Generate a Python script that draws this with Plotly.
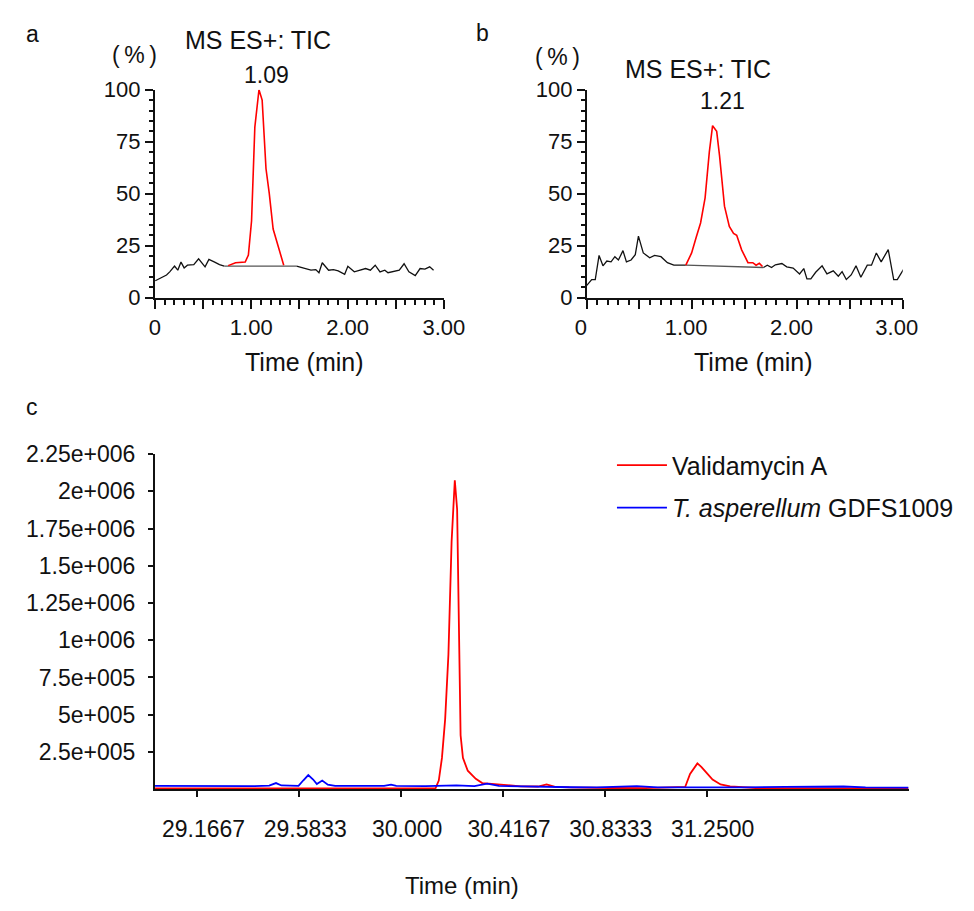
import plotly.graph_objects as go

W, H = 974, 911
FONT = "Liberation Sans, Arial, sans-serif"

# ---------------- Panel a data ----------------
a_pre_x = [0.003, 0.12, 0.153, 0.203, 0.237, 0.27, 0.303, 0.337, 0.403, 0.453, 0.52, 0.56, 0.62, 0.67, 0.72]
a_pre_y = [8.1, 10.9, 12.4, 15.2, 13.2, 17.1, 14.3, 15.6, 15.9, 18.7, 14.8, 18.4, 17.1, 15.9, 15.2]
a_base_x = [0.72, 1.47]
a_base_y = [15.2, 15.2]
a_peak_x = [0.76, 0.837, 0.937, 0.97, 1.003, 1.037, 1.08, 1.113, 1.153, 1.187, 1.227, 1.27, 1.337]
a_peak_y = [15.4, 16.8, 17.1, 20.5, 37, 82, 100, 95, 62, 50, 33, 26, 15.6]
a_post_x = [1.47, 1.553, 1.62, 1.67, 1.703, 1.737, 1.803, 1.853, 1.903, 1.97, 2.003, 2.07, 2.137, 2.187,
            2.237, 2.287, 2.337, 2.387, 2.42, 2.47, 2.537, 2.587, 2.637, 2.703, 2.753, 2.803, 2.853, 2.893]
a_post_y = [15.2, 14, 13.2, 13.5, 12, 16.8, 13.2, 13.5, 12.9, 11.2, 15.1, 12.4, 13.5, 14,
            13.2, 15.6, 12.4, 13.2, 12, 12.4, 13.2, 16.3, 12.4, 10.6, 14, 13.7, 14.8, 13.2]

# ---------------- Panel b data ----------------
b_pre_x = [0, 0.046, 0.08, 0.116, 0.153, 0.19, 0.23, 0.266, 0.30, 0.343, 0.376, 0.42, 0.46, 0.49, 0.536,
           0.597, 0.643, 0.704, 0.765, 0.826, 0.888, 0.94]
b_pre_y = [5.9, 8.7, 8.7, 20.3, 15.3, 17.6, 17.2, 19.7, 18.1, 22.6, 17.2, 18.1, 20.7, 29.6, 21.5,
           19.2, 20.3, 19.7, 16.8, 15.6, 15.6, 15.6]
b_base_x = [0.94, 1.677]
b_base_y = [15.6, 14.5]
b_peak_x = [0.94, 0.995, 1.04, 1.08, 1.123, 1.163, 1.194, 1.233, 1.26, 1.307, 1.353, 1.393, 1.423, 1.47,
            1.53, 1.576, 1.607, 1.638, 1.668]
b_peak_y = [15.6, 21.5, 29.3, 35.9, 48, 70, 82.7, 80, 68.3, 44, 34.3, 30.9, 30, 23, 16.8, 16.8, 15.6, 16.5, 15]
b_post_x = [1.677, 1.714, 1.754, 1.79, 1.852, 1.898, 1.959, 2.02, 2.06, 2.09, 2.127, 2.173, 2.234, 2.28,
            2.34, 2.388, 2.424, 2.464, 2.51, 2.556, 2.602, 2.663, 2.703, 2.749, 2.795, 2.862, 2.914, 2.948, 3.015]
b_post_y = [14.5, 15.6, 14.5, 15.8, 16.4, 14.8, 14.2, 11.4, 14, 9, 9, 12.2, 15.3, 11.4,
            12.9, 10.3, 12.5, 8.7, 10.9, 15.3, 9.8, 15.6, 15.6, 21.5, 17.2, 23.1, 8.7, 8.7, 14.2]

# ---------------- Panel c data ----------------
c_red_x = [28.993, 29.30, 29.60, 29.85, 30.00, 30.10, 30.1404, 30.1539, 30.1669, 30.18, 30.1934, 30.2064,
           30.2195, 30.229, 30.2369, 30.2432, 30.2527, 30.2725, 30.3053, 30.3318, 30.3578, 30.4108, 30.4899,
           30.56, 30.5951, 30.63, 30.6875, 30.85, 31.00, 31.162, 31.182, 31.212, 31.228, 31.248, 31.274,
           31.307, 31.346, 31.45, 31.60, 31.80, 32.076]
c_red_y = [5000, 5000, 4000, 6000, 5000, 5000, 5000, 58000, 210000, 470000, 904000, 1663000,
           2074000, 1879000, 1120000, 362000, 210000, 124000, 70000, 41000, 37000, 30000, 19500,
           18000, 32000, 16000, 12000, 8000, 7000, 15000, 102000, 173000, 150000, 113000, 65000,
           32000, 19500, 8000, 5000, 5000, 5000]
c_blue_x = [28.993, 29.10, 29.185, 29.25, 29.40, 29.46, 29.488, 29.51, 29.58, 29.60, 29.620, 29.64, 29.655,
            29.677, 29.70, 29.73, 29.85, 29.93, 29.9585, 29.98, 30.10, 30.226, 30.30, 30.352, 30.40, 30.50,
            30.60, 30.70, 30.80, 30.964, 31.05, 31.25, 31.40, 31.57, 31.65, 31.70, 31.81, 31.90, 32.076]
c_blue_y = [22000, 21000, 25000, 21000, 21000, 24000, 41000, 25000, 22000, 60000, 95000, 65000, 35000,
            58000, 30000, 22000, 21000, 22000, 30000, 22000, 21000, 25000, 21000, 37000, 22000, 18000,
            16000, 13000, 12000, 20000, 12000, 11000, 12000, 15000, 16000, 14000, 18000, 12000, 11000]

ab_ytick_vals = [0, 25, 50, 75, 100]
ab_xtick_vals = [0, 0.5, 1.0, 1.5, 2.0, 2.5, 3.0]
ab_xtick_text = ["0", "", "1.00", "", "2.00", "", "3.00"]
c_xtick_vals = [29.1667, 29.5833, 30.0, 30.4167, 30.8333, 31.25]
c_xtick_text = ["29.1667", "29.5833", "30.000", "30.4167", "30.8333", "31.2500"]
c_ytick_vals = [250000, 500000, 750000, 1000000, 1250000, 1500000, 1750000, 2000000, 2250000]
c_ytick_text = ["2.5e+005", "5e+005", "7.5e+005", "1e+006", "1.25e+006", "1.5e+006",
                "1.75e+006", "2e+006", "2.25e+006"]


def px(x):
    return x / W


def py(y):
    return 1 - y / H


fig = go.Figure()

BLACK = dict(color="#111111", width=1.3)
BASE = dict(color="#555555", width=1.3)
RED = dict(color="#ff0000", width=1.6)

for xs, ys, ln in [(a_pre_x, a_pre_y, BLACK), (a_base_x, a_base_y, BASE), (a_post_x, a_post_y, BLACK),
                   (a_peak_x, a_peak_y, RED)]:
    fig.add_trace(go.Scatter(x=xs, y=ys, mode="lines", line=ln, showlegend=False, xaxis="x", yaxis="y"))

for xs, ys, ln in [(b_pre_x, b_pre_y, BLACK), (b_base_x, b_base_y, BASE), (b_post_x, b_post_y, BLACK),
                   (b_peak_x, b_peak_y, RED)]:
    fig.add_trace(go.Scatter(x=xs, y=ys, mode="lines", line=ln, showlegend=False, xaxis="x2", yaxis="y2"))

fig.add_trace(go.Scatter(x=c_red_x, y=c_red_y, mode="lines", line=dict(color="#ff0000", width=1.8),
                         name="Validamycin A", legendgroup="g1", xaxis="x3", yaxis="y3"))
fig.add_trace(go.Scatter(x=c_blue_x, y=c_blue_y, mode="lines", line=dict(color="#0000ff", width=1.8),
                         name="<i>T. asperellum</i> GDFS1009", legendgroup="g2", xaxis="x3", yaxis="y3"))

tickfont = dict(family=FONT, size=22, color="#111111")


def ab_x(shift):
    return dict(range=[0, 3.0], showline=True, linewidth=2, linecolor="#111111", ticks="outside",
                tickvals=ab_xtick_vals, ticktext=ab_xtick_text, ticklen=9, tickwidth=2,
                tickcolor="#111111", showgrid=False, zeroline=False, tickfont=tickfont,
                ticklabelshift=shift,
                minor=dict(dtick=0.1, tick0=0, ticks="outside", ticklen=5, tickwidth=1.5,
                           tickcolor="#111111", showgrid=False))


ab_y_common = dict(range=[0, 100], showline=True, linewidth=2, linecolor="#111111", ticks="outside",
                   tickvals=ab_ytick_vals, ticklen=8, tickwidth=2, tickcolor="#111111",
                   showgrid=False, zeroline=False, tickfont=tickfont,
                   minor=dict(dtick=5, tick0=0, ticks="outside", ticklen=4, tickwidth=1.5,
                              tickcolor="#111111", showgrid=False))

fig.update_layout(
    width=W, height=H, margin=dict(l=0, r=0, t=0, b=0),
    paper_bgcolor="white", plot_bgcolor="white",
    font=dict(family=FONT, size=22, color="#111111"),
    xaxis=dict(domain=[px(148), px(447)], anchor="y", **ab_x(0)),
    yaxis=dict(domain=[py(293), py(79)], anchor="x", **ab_y_common),
    xaxis2=dict(domain=[px(595), px(922)], anchor="y2", **ab_x(-6)),
    yaxis2=dict(domain=[py(293), py(79)], anchor="x2", **ab_y_common),
    xaxis3=dict(domain=[px(148), px(928)], anchor="y3", range=[28.9928, 32.076], showline=True,
                linewidth=2, linecolor="#111111", ticks="outside", tickvals=c_xtick_vals,
                ticktext=c_xtick_text, ticklen=6, tickwidth=2, tickcolor="#111111", showgrid=False,
                zeroline=False, tickfont=dict(family=FONT, size=23, color="#111111"),
                ticklabelstandoff=12, ticklabelshift=6),
    yaxis3=dict(domain=[py(799), py(454)], anchor="x3", range=[0, 2250000], showline=True,
                linewidth=2, linecolor="#111111", ticks="outside", tickvals=c_ytick_vals,
                ticktext=c_ytick_text, ticklen=5, tickwidth=2, tickcolor="#111111", showgrid=False,
                zeroline=False, tickfont=dict(family=FONT, size=23, color="#111111"), ticklabelstandoff=8),
    legend=dict(x=px(621), y=py(442), xanchor="left", yanchor="top", font=dict(family=FONT, size=25),
                bgcolor="rgba(0,0,0,0)", tracegroupgap=7, itemwidth=50, traceorder="grouped"),
)

annots = [
    ("a", 21, 22, 23), ("b", 487, 21, 23), ("c", 21, 406, 23),
    ("(\u2009%\u2009)", 127, 43, 23), ("MS ES+: TIC", 255, 28, 25), ("1.09", 263, 64, 23),
    ("(\u2009%\u2009)", 565, 45, 23), ("MS ES+: TIC", 710, 58, 25), ("1.21", 735, 91, 23),
    ("Time (min)", 303, 359, 25), ("Time (min)", 767, 359, 25), ("Time (min)", 466, 898, 24),
]
for text, x, y, size in annots:
    fig.add_annotation(text=text, x=px(x), y=py(y), xref="paper", yref="paper", xanchor="center",
                       yanchor="middle", showarrow=False, font=dict(family=FONT, size=size, color="#111111"))

fig.write_html("out.html", config={"displayModeBar": False},
               post_script="document.body.style.margin='0';document.body.style.overflow='hidden';")
